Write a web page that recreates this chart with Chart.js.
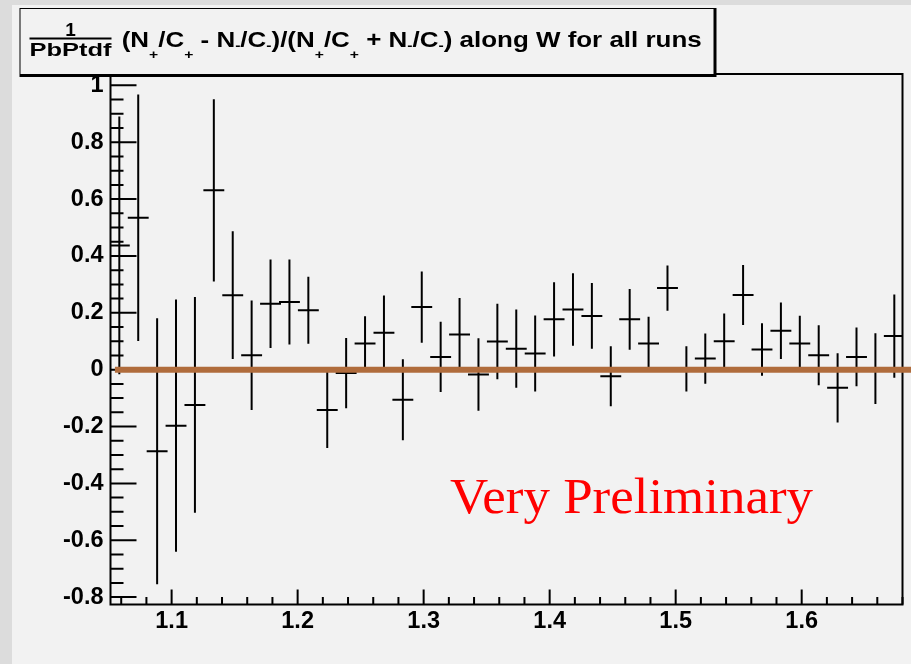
<!DOCTYPE html>
<html>
<head>
<meta charset="utf-8">
<script src="https://cdn.jsdelivr.net/npm/chart.js@4.4.0/dist/chart.umd.min.js"></script>
<style>
  html, body { margin: 0; padding: 0; width: 911px; height: 664px; overflow: hidden; background: #dcdcdc; }
  #panel { position: absolute; left: 12px; top: 5px; width: 899px; height: 659px; background: #f2f2f2; }
  #chart { position: absolute; left: 0; top: 0; }
</style>
</head>
<body>
<div id="panel"></div>
<canvas id="chart" width="911" height="664"></canvas>
<script>
// bin centres in W (GeV)
const W = [1.0585, 1.0735, 1.0885, 1.1035, 1.1185, 1.1335, 1.1485, 1.1635, 1.1785, 1.1935,
           1.2085, 1.2235, 1.2385, 1.2535, 1.2685, 1.2835, 1.2985, 1.3135, 1.3285, 1.3435,
           1.3585, 1.3735, 1.3885, 1.4035, 1.4185, 1.4335, 1.4485, 1.4635, 1.4785, 1.4935,
           1.5085, 1.5235, 1.5385, 1.5535, 1.5685, 1.5835, 1.5985, 1.6135, 1.6285, 1.6435,
           1.6585, 1.6735];
// asymmetry per bin
const asym = [0.437, 0.534, -0.287, -0.197, -0.124, 0.631, 0.262, 0.051, 0.232, 0.238,
              0.209, -0.142, -0.012, 0.092, 0.130, -0.106, 0.220, 0.045, 0.124, -0.017,
              0.099, 0.074, 0.057, 0.177, 0.212, 0.189, -0.023, 0.177, 0.092, 0.287,
              0.003, 0.039, 0.100, 0.263, 0.071, 0.137, 0.092, 0.051, -0.064, 0.045,
              0.004, 0.118];
// statistical errors
const asymErr = [0.450, 0.430, 0.464, 0.440, 0.376, 0.317, 0.221, 0.189, 0.152, 0.146,
                 0.114, 0.130, 0.120, 0.092, 0.127, 0.139, 0.122, 0.120, 0.125, 0.124,
                 0.129, 0.134, 0.130, 0.127, 0.124, 0.112, 0.102, 0.103, 0.091, 0.076,
                 0.076, 0.085, 0.094, 0.102, 0.089, 0.096, 0.094, 0.102, 0.118, 0.100,
                 0.121, 0.143];
// constant fit at zero
const fitW = [1.055, 1.70];
const fitA = [0, 0];

const binHalf = 0.0075;
const sans = '"Liberation Sans", Arial, Helvetica, sans-serif';

const rootStyle = {
  id: 'rootStyle',
  beforeDatasetsDraw(chart) {
    const { ctx, chartArea: a, scales: { x, y } } = chart;
    ctx.save();
    ctx.strokeStyle = '#000';
    ctx.lineWidth = 2;
    ctx.strokeRect(a.left, a.top, a.right - a.left, a.bottom - a.top);

    // ticks pointing inward, ROOT style
    ctx.beginPath();
    x.ticks.forEach(t => {
      const p = x.getPixelForValue(t.value);
      ctx.moveTo(p, a.bottom); ctx.lineTo(p, a.bottom - 15);
    });
    for (let k = 53; k <= 84; k++) {
      const p = x.getPixelForValue(k * 0.02);
      ctx.moveTo(p, a.bottom); ctx.lineTo(p, a.bottom - 7.5);
    }
    y.ticks.forEach(t => {
      const p = y.getPixelForValue(t.value);
      ctx.moveTo(a.left, p); ctx.lineTo(a.left + 26, p);
    });
    for (let k = -16; k <= 20; k++) {
      const p = y.getPixelForValue(k * 0.05);
      ctx.moveTo(a.left, p); ctx.lineTo(a.left + 13, p);
    }
    ctx.stroke();

    // error bars
    ctx.beginPath();
    ctx.rect(a.left, a.top, a.right - a.left, a.bottom - a.top);
    ctx.clip();
    ctx.lineCap = 'square';
    for (let i = 0; i < W.length; i++) {
      const px = x.getPixelForValue(W[i]);
      const py = y.getPixelForValue(asym[i]);
      ctx.beginPath();
      ctx.moveTo(px, y.getPixelForValue(asym[i] + asymErr[i]));
      ctx.lineTo(px, y.getPixelForValue(asym[i] - asymErr[i]));
      ctx.moveTo(x.getPixelForValue(W[i] - binHalf), py);
      ctx.lineTo(x.getPixelForValue(W[i] + binHalf), py);
      ctx.stroke();
    }
    ctx.restore();
  },
  afterDraw(chart) {
    const { ctx } = chart;
    ctx.save();

    // watermark
    ctx.fillStyle = '#ff0000';
    ctx.font = '50px "Liberation Serif", "Times New Roman", serif';
    ctx.textBaseline = 'alphabetic';
    const wm = 'Very Preliminary';
    const wmW = ctx.measureText(wm).width;
    ctx.save();
    ctx.translate(450, 512.5);
    ctx.scale(363 / wmW, 1);
    ctx.fillText(wm, 0, 0);
    ctx.restore();

    // title box with shadow
    ctx.fillStyle = '#000';
    ctx.fillRect(19.5, 8, 697, 69);
    ctx.fillStyle = '#f2f2f2';
    ctx.fillRect(20.5, 9, 693, 65);

    ctx.fillStyle = '#000';
    ctx.textAlign = 'center';
    ctx.font = 'bold 19px ' + sans;
    ctx.fillText('1', 70.5, 35.5);
    ctx.fillRect(29.5, 37.5, 82, 2);
    ctx.textAlign = 'left';
    ctx.font = 'bold 19px ' + sans;
    const den = 'PbPtdf';
    const denW = ctx.measureText(den).width;
    ctx.save();
    ctx.translate(29.5, 56);
    ctx.scale(82 / denW, 1);
    ctx.fillText(den, 0, 0);
    ctx.restore();

    const parts = [
      ['(N', 0], ['+', 1], ['/C', 0], ['+', 1], [' - N', 0], ['-', 2], ['/C', 0], ['-', 2],
      [')/(N', 0], ['+', 1], ['/C', 0], ['+', 1], [' + N', 0], ['-', 2], ['/C', 0], ['-', 2],
      [') along W for all runs', 0]
    ];
    const mainFont = 'bold 21.5px ' + sans;
    const subFont = 'bold 13px ' + sans;
    let total = 0;
    parts.forEach(p => { ctx.font = p[1] ? subFont : mainFont; total += ctx.measureText(p[0]).width; });
    ctx.save();
    ctx.translate(121.7, 47);
    ctx.scale(580 / total, 1);
    let cx = 0;
    parts.forEach(p => {
      ctx.font = p[1] ? subFont : mainFont;
      const dy = p[1] === 1 ? 12 : (p[1] === 2 ? 3 : 0);
      ctx.fillText(p[0], cx, dy);
      cx += ctx.measureText(p[0]).width;
    });
    ctx.restore();
    ctx.restore();
  }
};

const tickFont = { family: sans, size: 23.5, weight: 'bold' };
const fmt = v => String(Math.round(v * 10) / 10);

new Chart(document.getElementById('chart'), {
  type: 'scatter',
  data: {
    datasets: [
      {
        label: 'asymmetry',
        data: W.map((w, i) => ({ x: w, y: asym[i] })),
        pointRadius: 0,
        showLine: false
      },
      {
        label: 'fit',
        type: 'line',
        data: fitW.map((w, i) => ({ x: w, y: fitA[i] })),
        borderColor: '#b06c3c',
        borderWidth: 6,
        pointRadius: 0,
        showLine: true,
        clip: false
      }
    ]
  },
  options: {
    responsive: false,
    animation: false,
    devicePixelRatio: 1,
    layout: { padding: { top: 74, right: 8.5, left: 0, bottom: 0 } },
    plugins: { legend: { display: false }, tooltip: { enabled: false } },
    scales: {
      x: {
        type: 'linear',
        min: 1.0515,
        max: 1.68,
        grid: { display: false, drawTicks: false },
        border: { display: false },
        ticks: { stepSize: 0.1, includeBounds: false, padding: 3, color: '#000', font: tickFont, maxRotation: 0, callback: fmt },
        afterFit: s => { s.height = 59.5; }
      },
      y: {
        type: 'linear',
        min: -0.826,
        max: 1.04,
        grid: { display: false, drawTicks: false },
        border: { display: false },
        ticks: { stepSize: 0.2, includeBounds: false, padding: 7, color: '#000', font: tickFont, callback: fmt },
        afterFit: s => { s.width = 110.5; }
      }
    }
  },
  plugins: [rootStyle]
});
</script>
</body>
</html>
